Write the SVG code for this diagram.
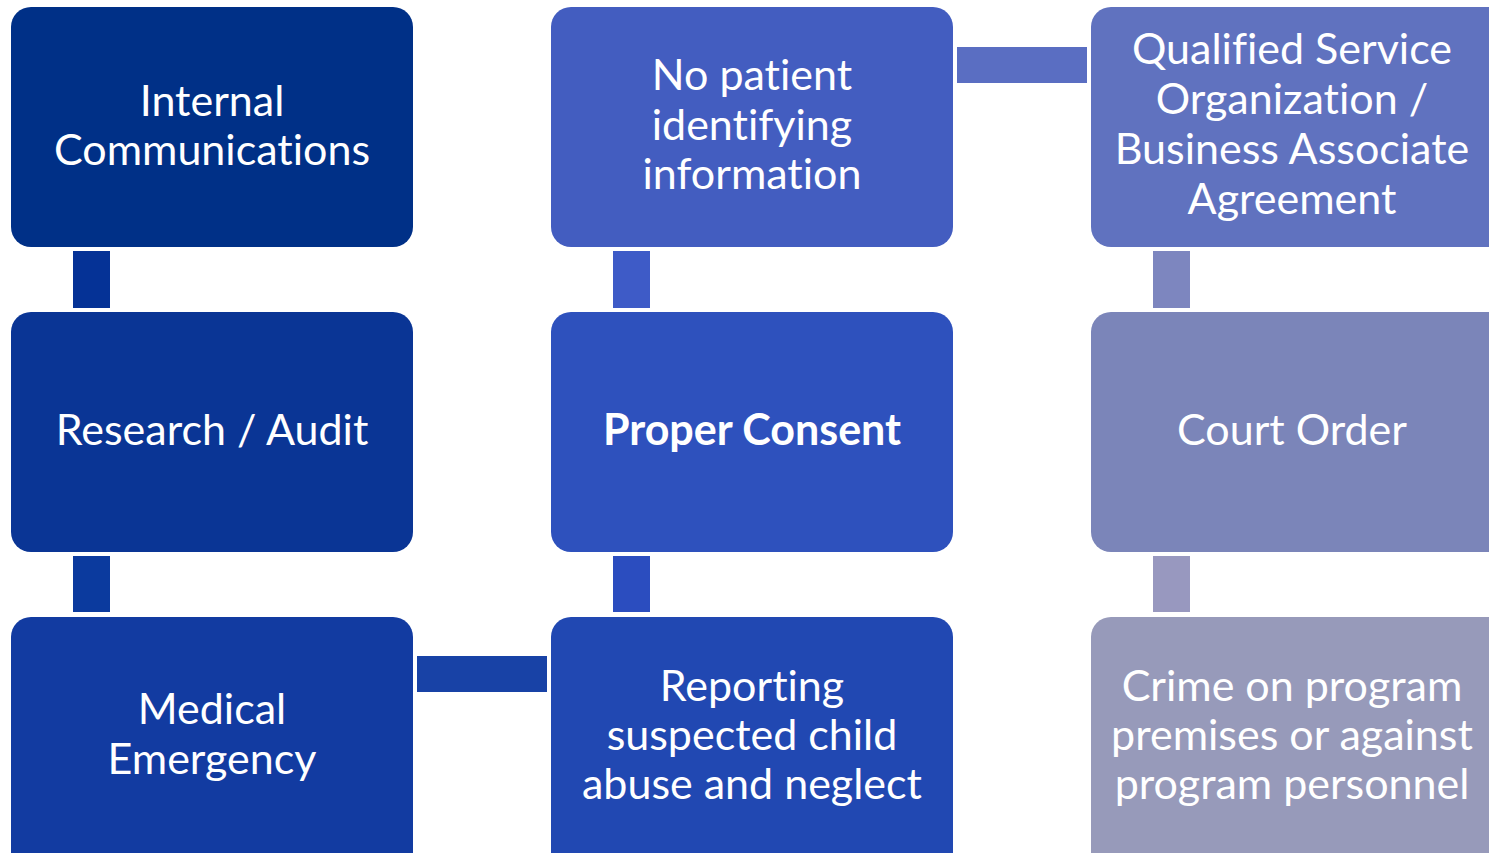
<svg xmlns="http://www.w3.org/2000/svg" width="1489" height="853" viewBox="0 0 1489 853">
<style>
.t{font-family:Lato,"Noto Sans","Liberation Sans",sans-serif;font-size:43px;fill:#fff;text-anchor:middle;font-variant-ligatures:none;font-feature-settings:"liga" 0}
.b{font-weight:bold}
</style>
<rect width="1489" height="853" fill="#fff"/>
<g id="connectors">
<rect x="73" y="251" width="37" height="57" fill="#053296"/>
<rect x="73" y="556" width="37" height="56" fill="#0b3a9e"/>
<rect x="613" y="251" width="37" height="57" fill="#3e5bc7"/>
<rect x="613" y="556" width="37" height="56" fill="#2b4dbf"/>
<rect x="1153" y="251" width="37" height="57" fill="#7d86bf"/>
<rect x="1153" y="556" width="37" height="56" fill="#9898bf"/>
<rect x="957" y="47" width="130" height="36" fill="#5a6ec2"/>
<rect x="417" y="656" width="130" height="36" fill="#1842a6"/>
</g>
<g id="n1"><rect x="11" y="7" width="402" height="240" rx="20" fill="#003087"/>
<text class="t" x="212" y="116">Internal</text><text class="t" x="212" y="165">Communications</text></g>
<g id="n2"><rect x="11" y="312" width="402" height="240" rx="20" fill="#0a3595"/>
<text class="t" x="212" y="445">Research / Audit</text></g>
<g id="n3"><rect x="11" y="617" width="402" height="260" rx="20" fill="#123ba1"/>
<text class="t" x="212" y="724">Medical</text><text class="t" x="212" y="774">Emergency</text></g>
<g id="n4"><rect x="551" y="7" width="402" height="240" rx="20" fill="#435dc0"/>
<text class="t" x="752" y="90">No patient</text><text class="t" x="752" y="140">identifying</text><text class="t" x="752" y="189">information</text></g>
<g id="n5"><rect x="551" y="312" width="402" height="240" rx="20" fill="#2e51bd"/>
<text class="t b" x="752" y="445">Proper Consent</text></g>
<g id="n6"><rect x="551" y="617" width="402" height="260" rx="20" fill="#2148b2"/>
<text class="t" x="752" y="701">Reporting</text><text class="t" x="752" y="750">suspected child</text><text class="t" x="752" y="799">abuse and neglect</text></g>
<g id="n7"><rect x="1091" y="7" width="420" height="240" rx="20" fill="#6072bf"/>
<text class="t" x="1292" y="64">Qualified Service</text><text class="t" x="1292" y="114">Organization /</text><text class="t" x="1292" y="164">Business Associate</text><text class="t" x="1292" y="214">Agreement</text></g>
<g id="n8"><rect x="1091" y="312" width="420" height="240" rx="20" fill="#7b85b9"/>
<text class="t" x="1292" y="445">Court Order</text></g>
<g id="n9"><rect x="1091" y="617" width="420" height="260" rx="20" fill="#979aba"/>
<text class="t" x="1292" y="701">Crime on program</text><text class="t" x="1292" y="750">premises or against</text><text class="t" x="1292" y="799">program personnel</text></g>
</svg>
